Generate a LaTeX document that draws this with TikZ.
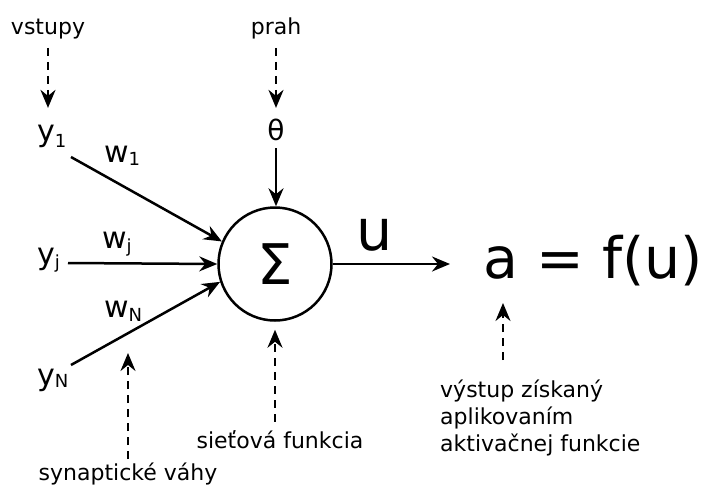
\documentclass[tikz,border=0pt]{standalone}
\usepackage{fontspec}
\setmainfont{DejaVu Sans}
\usetikzlibrary{arrows.meta}
\newcommand\fsz[1]{\fontsize{#1}{#1}\selectfont}
\newcommand\varlbl[3]{{\fsz{30}#1}\raisebox{-#3pt}{\fsz{18}#2}}
\begin{document}
\begin{tikzpicture}[x=1pt,y=-1pt,
  arr/.style={line width=2.5pt,-{Stealth[length=18pt,width=15pt,inset=6pt]}},
  dasharr/.style={arr, dash pattern=on 8pt off 6pt},
  small/.style={font=\fsz{22}, inner sep=0pt, anchor=base},
  var/.style={inner sep=0pt, anchor=base west},
  big/.style={font=\fsz{57}, inner sep=0pt, anchor=base west},
]
\useasboundingbox (0,0) rectangle (704,491);
% labels
\node[small] (vstupy) at (48,34) {vstupy};
\node[small] (prah) at (276,34) {prah};
\node[font=\fsz{28}, inner sep=0pt] (theta) at (276,130) {θ};
\node[var] (y1) at (37,141.5) {\varlbl{y}{1}{6}};
\node[var] (yj) at (37,264.5) {\varlbl{y}{j}{4}};
\node[var] (yN) at (37,385) {\varlbl{y}{N}{2}};
\node[var] (w1) at (104,162) {\varlbl{w}{1}{3}};
\node[var] (wj) at (102,248) {\varlbl{w}{j}{4}};
\node[var] (wN) at (104,317) {\varlbl{w}{N}{4}};
\node[circle, draw, line width=2.5pt, minimum size=113pt, inner sep=0pt, font=\fsz{56}] (sum) at (275,264) {Σ};
\node[big] (u) at (356,250) {u};
\node[big] (out) at (483,278) {a = f(u)};
\node[small] (syn) at (128,480) {synaptické váhy};
\node[small] (sief) at (280,448) {sieťová funkcia};
\node[inner sep=0pt, anchor=base west, align=left, font=\fontsize{22}{27}\selectfont] (outtxt) at (440,451) {výstup získaný\\aplikovaním\\aktivačnej funkcie};
% coordinates
\coordinate (s1) at (71,157);
\coordinate (sj) at (68,263);
\coordinate (sN) at (71,365);
\coordinate (synT) at (128,353);
\coordinate (outB) at (503,360);
\coordinate (outT) at (503,303);
% connectors
\draw[dasharr, shorten <=9pt, shorten >=17pt] (vstupy.south) -- (vstupy.south |- y1.north);
\draw[dasharr, shorten <=9pt, shorten >=11pt] (prah.south -| theta) -- (theta.north);
\draw[arr, shorten <=7pt] (theta.south) -- (theta |- sum.north);
\draw[arr] (s1) -- (sum.157);
\draw[arr] (sj) -- (sum.west);
\draw[arr] (sN) -- (sum.198);
\draw[arr, shorten >=33pt] (sum.east) -- (sum.east -| out.west);
\draw[dasharr, shorten <=3pt] (syn.north) -- (synT);
\draw[dasharr, shorten <=8pt, shorten >=8pt] (sief.north -| sum) -- (sum);
\draw[dasharr] (outB) -- (outT);
\end{tikzpicture}
\end{document}
